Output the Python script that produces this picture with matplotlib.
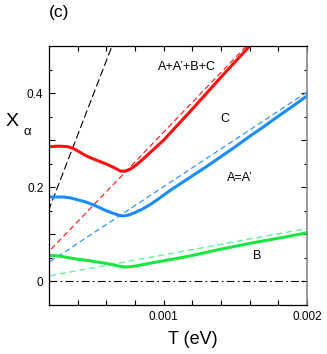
import numpy as np
import matplotlib
matplotlib.use("Agg")
import matplotlib.pyplot as plt

plt.rcParams['font.family'] = ['Liberation Sans', 'DejaVu Sans']

# solid curves (T in eV, X_alpha)
T_red = [0.0002, 0.00027, 0.00033, 0.00037, 0.0004, 0.00045, 0.0005, 0.00055, 0.0006,
         0.00065, 0.00068, 0.0007, 0.00073, 0.00076, 0.0008, 0.00085, 0.0009, 0.00095,
         0.001, 0.0011, 0.0012, 0.0013, 0.0014, 0.0015, 0.0016]
X_red = [0.286, 0.287, 0.286, 0.282, 0.277, 0.268, 0.261, 0.255, 0.249,
         0.242, 0.237, 0.234, 0.234, 0.237, 0.245, 0.258, 0.272, 0.286,
         0.300, 0.333, 0.366, 0.400, 0.434, 0.467, 0.500]

T_blue = [0.0002, 0.0003, 0.00035, 0.0004, 0.00045, 0.00052, 0.00059, 0.00065, 0.00068,
          0.0007, 0.00073, 0.00076, 0.0008, 0.00085, 0.0009, 0.00095, 0.001, 0.00105,
          0.0011, 0.0012, 0.0013, 0.0014, 0.0015, 0.0016, 0.0017, 0.0018, 0.0019, 0.002]
X_blue = [0.179, 0.179, 0.177, 0.173, 0.169, 0.161, 0.151, 0.144, 0.141,
          0.139, 0.139, 0.141, 0.146, 0.153, 0.162, 0.172, 0.183, 0.194,
          0.204, 0.224, 0.244, 0.265, 0.286, 0.308, 0.329, 0.351, 0.372, 0.394]

T_green = [0.0002, 0.00025, 0.0003, 0.00037, 0.00049, 0.0006, 0.00066, 0.0007, 0.00074,
           0.0008, 0.00092, 0.00116, 0.00139, 0.00162, 0.00185, 0.002]
X_green = [0.0546, 0.054, 0.052, 0.048, 0.043, 0.0376, 0.034, 0.031, 0.030,
           0.032, 0.039, 0.052, 0.0675, 0.0815, 0.094, 0.103]

# dashed asymptotes (end points)
T_red_d, X_red_d = [0.0, 0.0017], [0.0, 0.539]
T_blue_d, X_blue_d = [0.0, 0.002], [0.0, 0.402]
T_green_d, X_green_d = [0.0, 0.002], [0.0, 0.112]
T_black_d, X_black_d = [0.0, 0.0007], [-0.005, 0.548]

fig = plt.figure(figsize=(3.27, 3.54), dpi=100)
ax = fig.add_axes([0.150, 0.138, 0.789, 0.732])

red = '#ff1010'
blue = '#1a8cff'
green = '#19e640'
lgreen = '#5eee98'

ax.axhline(0, color='black', lw=0.8, ls=(0, (7, 3, 1.5, 3)))
ax.plot(T_black_d, X_black_d, color='black', lw=0.8, ls=(0, (7, 3)))
ax.plot(T_red_d, X_red_d, color=red, lw=0.8, ls=(0, (5, 3)))
ax.plot(T_blue_d, X_blue_d, color=blue, lw=0.8, ls=(0, (5, 3)))
ax.plot(T_green_d, X_green_d, color=lgreen, lw=0.9, ls=(0, (5, 3)))

ax.plot(T_red, X_red, color=red, lw=2.2, solid_capstyle='round', solid_joinstyle='round')
ax.plot(T_blue, X_blue, color=blue, lw=2.2, solid_capstyle='round', solid_joinstyle='round')
ax.plot(T_green, X_green, color=green, lw=2.2, solid_capstyle='round', solid_joinstyle='round')

ax.set_xlim(0.0002, 0.002)
ax.set_ylim(-0.051, 0.5)

xt = np.arange(0.0004, 0.00201, 0.0002)
ax.set_xticks(xt)
ax.set_xticklabels(['0.001' if abs(v - 0.001) < 1e-9 else ('0.002' if abs(v - 0.002) < 1e-9 else '') for v in xt])
yt = [0.0, 0.1, 0.2, 0.3, 0.4]
ax.set_yticks(yt)
ax.set_yticklabels(['0', '', '0.2', '', '0.4'])
ax.set_yticks([-0.05, 0.05, 0.15, 0.25, 0.35, 0.45], minor=True)
ax.tick_params(which='both', direction='in', top=True, right=True, labelsize=8.5, width=0.8)
ax.tick_params(which='major', length=4, pad=4)
ax.tick_params(which='minor', length=2.5)
ax.tick_params(axis='x', which='major', length=3.5)
for s in ['left', 'bottom', 'top']:
    ax.spines[s].set_linewidth(0.9)
ax.spines['right'].set_color('#888888')
ax.spines['right'].set_linewidth(1.2)

fig.text(0.589, 0.040, 'T (eV)', fontsize=13, ha='center', va='center')
fig.text(0.036, 0.658, 'X', fontsize=14, ha='center', va='center')
fig.text(0.083, 0.627, '\u03b1', fontsize=9.5, ha='center', va='center')

ax.text(0.00116, 0.455, 'A+A\u2019+B+C', fontsize=9, ha='center', va='center')
ax.text(0.00143, 0.344, 'C', fontsize=9, ha='center', va='center')
ax.text(0.00153, 0.2185, 'A=A\u2019', fontsize=9, ha='center', va='center')
ax.text(0.00165, 0.054, 'B', fontsize=9, ha='center', va='center')

fig.text(0.18, 0.965, '(c)', fontsize=12.5, ha='center', va='center')

fig.savefig('out.png', dpi=100)
